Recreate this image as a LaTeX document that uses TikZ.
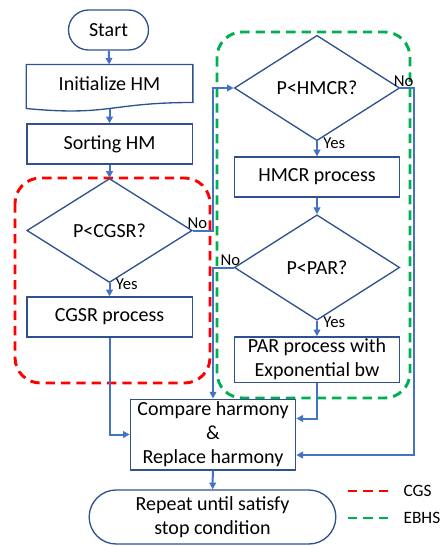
\documentclass[tikz,border=0pt]{standalone}
\usepackage{fontspec}
\setmainfont{Carlito}
\usepackage{xcolor}
\usepackage{tikz}
\usetikzlibrary{shapes.geometric, shapes.misc, arrows.meta, positioning}

\definecolor{boxblue}{HTML}{2F528F}
\definecolor{arrblue}{HTML}{4472C4}
\definecolor{cgsred}{HTML}{FF0000}
\definecolor{ebhsgreen}{HTML}{00B050}
\newcommand{\boxfont}{\fontsize{15}{18}\selectfont}
\newcommand{\lblfont}{\fontsize{12.5}{15}\selectfont}

\begin{document}
\begin{tikzpicture}[
  x=0.75pt, y=-0.75pt,
  box/.style    = {rectangle, draw=boxblue, line width=1pt, minimum width=124pt,
                   minimum height=30pt, align=center, font=\boxfont, inner sep=1pt},
  term/.style   = {rounded rectangle, draw=boxblue, line width=1pt,
                   minimum height=30pt, align=center, font=\boxfont, inner sep=1pt},
  dec/.style    = {diamond, draw=boxblue, line width=1pt, aspect=1.58,
                   minimum width=124pt, minimum height=78pt, inner sep=0pt, font=\boxfont},
  arr/.style    = {-{Triangle[length=5pt,width=5pt]}, arrblue, line width=1.5pt},
  lbl/.style    = {font=\lblfont, text=black, inner sep=1pt},
  cgsline/.style  = {cgsred, line width=2.2pt, dash pattern=on 7pt off 4.5pt},
  ebhsline/.style = {ebhsgreen, line width=2.2pt, dash pattern=on 7pt off 4.5pt}
]
\useasboundingbox (0,0) rectangle (446,546);

% Group frames
\draw[cgsline, rounded corners=19pt] (15,178) rectangle (210,383);
\draw[ebhsline, rounded corners=19pt] (217,32) rectangle (410,398);

% Left column
\node[term, minimum width=62pt] (start) at (108.5,30) {Start};
\node[box, draw=none, minimum height=27.5pt] (init) at (109.5,83.5) {Initialize HM};
\draw[boxblue, line width=1pt] (init.south east) -- (init.north east) -- (init.north west)
  -- ([yshift=-4.5pt]init.south west)
  .. controls ([yshift=-10.5pt]init.south) and (init.south) .. (init.south east) -- cycle;
\node[box] (sort) at (109.5,144) {Sorting HM};
\node[dec] (cgsr) at (109.5,230.5) {P<CGSR?};
\node[box] (cgsrp) at (109.5,317) {CGSR process};

% Right column
\node[dec, minimum height=79pt] (hmcr) at (317,88) {P<HMCR?};
\node[box] (hmcrp) at (317,177) {HMCR process};
\node[dec, minimum height=79pt] (par) at (317,267.5) {P<PAR?};
\node[box, minimum height=34pt] (parp) at (317,359.5) {PAR process with\\Exponential bw};

% Bottom
\node[box, minimum height=53pt] (cmp) at (213,434.5) {Compare harmony\\\&\\Replace harmony};
\node[term, minimum width=187pt, minimum height=40.5pt] (rep) at (212.5,517)
  {Repeat until satisfy\\stop condition};

% Arrows down the columns
\draw[arr] (start) -- (init);
\draw[arr] ([yshift=-4.5pt]init.south) -- (sort);
\draw[arr] (sort) -- (cgsr);
\draw[arr] (cgsr) -- node[lbl, pos=0.1, right=3pt] (y1) {Yes} (cgsrp);
\draw[arr] (hmcr) -- node[lbl, pos=0.1, right=3pt] (y2) {Yes} (hmcrp);
\draw[arr] (hmcrp) -- (par);
\draw[arr] (par) -- node[lbl, pos=0.1, right=3pt] (y3) {Yes} (parp);
\draw[arr] (cmp) -- (rep);

% No branches
\draw[arr] (cgsr.east) -- ++(20,0) |- (hmcr.west);
\node[lbl, above left=0pt and -12pt of cgsr.east] (n1) {No};
\draw[arr] (hmcr.east) -- ++(14,0) |- ([yshift=-15.4pt]cmp.east);
\node[lbl, above right=0pt and -6pt of hmcr.east] (n2) {No};
\draw[arr] (par.west) -| (cmp.north);
\node[lbl, above left=0pt and -6pt of par.west] (n3) {No};

% Into compare
\draw[arr] (cgsrp.south) |- (cmp.west);
\draw[arr] (parp.south) |- ([yshift=12pt]cmp.east);

% Legend
\coordinate (lgA) at (348,491);
\coordinate (lgB) at (348,518);
\node[lbl, font=\fontsize{13}{15}\selectfont, anchor=west] (lgcgs) at (402,491) {CGS};
\node[lbl, font=\fontsize{13}{15}\selectfont, anchor=west] (lgebhs) at (402,518) {EBHS};
\draw[cgsline] (lgA) -- ([xshift=-9pt]lgcgs.west);
\draw[ebhsline] (lgB) -- ([xshift=-9pt]lgebhs.west);

\end{tikzpicture}
\end{document}
